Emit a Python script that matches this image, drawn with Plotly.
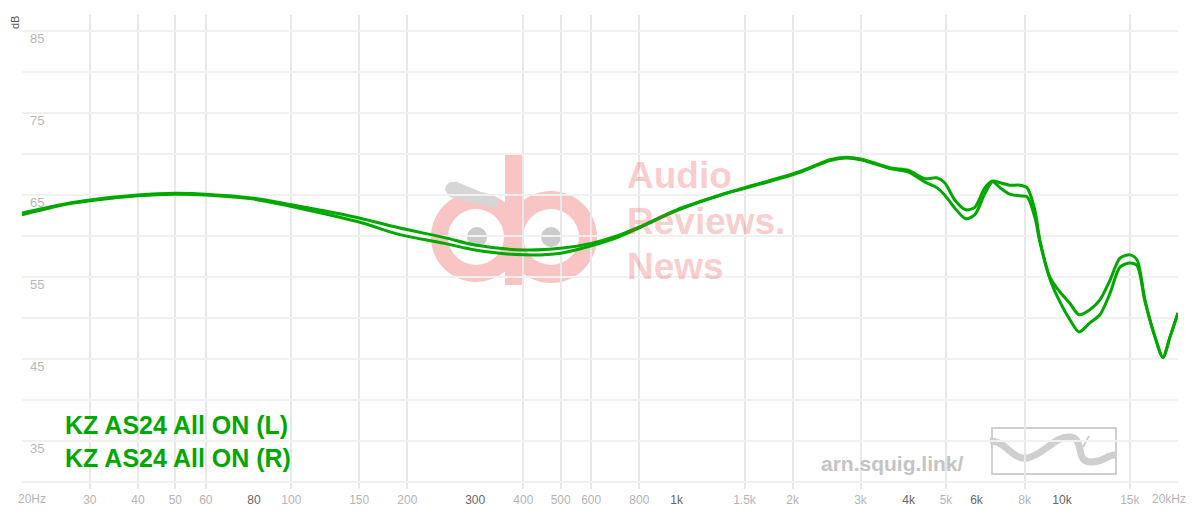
import re
import numpy as np
import plotly.graph_objects as go

# ---------------- data ----------------
FREQ_HZ = [20, 25, 30, 40, 50, 60, 80, 100, 150, 190, 250, 300, 400, 500, 600, 700, 800,
           1000, 1300, 1500, 1850, 2100, 2500, 2750, 3000, 3600, 4000, 4400, 4730, 4960,
           5270, 5630, 5940, 6310, 6610, 6900, 7320, 7770, 8110, 8500, 8760, 9300, 9870,
           10480, 11070, 11810, 12540, 13320, 14140, 15010, 15650, 16420, 17430, 18280,
           19070, 20000]

SPL_L = [62.8, 63.8, 64.4, 65.0, 65.2, 65.1, 64.6, 63.8, 62.2, 61.0, 59.8, 58.9, 58.3, 58.5,
         59.1, 60.0, 61.1, 63.2, 65.0, 65.9, 67.1, 67.9, 69.3, 69.6, 69.4, 68.3, 68.0, 67.0,
         67.1, 66.5, 64.4, 63.2, 63.5, 65.9, 66.7, 66.5, 66.2, 66.2, 65.9, 63.2, 59.5, 55.0,
         53.2, 51.8, 50.4, 51.0, 52.2, 54.6, 57.3, 57.7, 57.1, 52.2, 47.7, 45.2, 47.7, 50.6]

SPL_R = [62.6, 63.7, 64.3, 64.9, 65.1, 65.0, 64.5, 63.6, 61.7, 60.2, 59.1, 58.3, 57.7, 57.9,
         58.8, 59.8, 61.0, 63.1, 65.0, 65.8, 67.0, 67.8, 69.2, 69.5, 69.3, 68.2, 67.8, 66.6,
         65.9, 65.0, 63.4, 62.1, 62.6, 65.2, 66.6, 65.9, 65.1, 64.9, 64.8, 62.3, 59.3, 54.8,
         52.0, 49.8, 48.3, 49.4, 50.4, 53.0, 56.2, 56.7, 56.4, 52.0, 47.7, 45.2, 47.7, 50.6]

SERIES_NAMES = ["KZ AS24 All ON (L)", "KZ AS24 All ON (R)"]

X_TICK_VALUES = [20, 30, 40, 50, 60, 80, 100, 150, 200, 300, 400, 500, 600, 800, 1000,
                 1500, 2000, 3000, 4000, 5000, 6000, 8000, 10000, 15000, 20000]
X_TICK_LABELS = ["20Hz", "30", "40", "50", "60", "80", "100", "150", "200",
                 "300", "400", "500", "600", "800", "1k", "1.5k", "2k", "3k", "4k", "5k",
                 "6k", "8k", "10k", "15k", "20kHz"]
X_MAJOR_VALUES = [80, 300, 1000, 4000, 6000, 10000]
X_EDGE_VALUES = [20, 20000]

Y_LABEL_VALUES = [35, 45, 55, 65, 75, 85]
Y_MINOR_VALUES = [30, 40, 50, 60, 70, 80]

# ---------------- style ----------------
W, H = 1200, 519
OFF = 8  # page body margin
ML, MR, MT, MB = 22 - OFF, W - (1178 - OFF), 15 - OFF, H - (489 - OFF)
PW, PH = W - ML - MR, H - MT - MB
GREEN = "rgb(0,168,0)"
FONT = "Liberation Sans, Arial, sans-serif"
LIGHT_LABEL = "#b4b4b4"
DARK_LABEL = "#666666"


def px(x):
    return (x - OFF - ML) / PW


def py(y):
    return (H - MB - (y - OFF)) / PH


def ppath(s):
    return re.sub(r"(-?\d+\.?\d*),(-?\d+\.?\d*)",
                  lambda m: f"{px(float(m.group(1))):.5f},{py(float(m.group(2))):.5f}", s)


fig = go.Figure()
for name, vals in zip(SERIES_NAMES, [SPL_L, SPL_R]):
    fig.add_trace(go.Scatter(x=FREQ_HZ, y=vals, mode="lines", name=name,
                             line=dict(color=GREEN, width=3, shape="spline", smoothing=0.8),
                             hoverinfo="skip", showlegend=False))

ticktext = []
for v, t in zip(X_TICK_VALUES, X_TICK_LABELS):
    if v in X_EDGE_VALUES:
        ticktext.append("")
        continue
    c = DARK_LABEL if v in X_MAJOR_VALUES else LIGHT_LABEL
    ticktext.append(f"<span style='color:{c}'>{t}</span>")

shapes = []
# darker major vertical grid lines
for v in X_MAJOR_VALUES:
    shapes.append(dict(type="line", xref="x", yref="paper", x0=np.log10(v), x1=np.log10(v),
                       y0=0, y1=1, line=dict(color="#b8b8b8", width=1.6), layer="below"))

# audio reviews "ab" watermark
PINK = "#f8c4c4"
def circ(cx, cy, r, col):
    return dict(type="circle", xref="paper", yref="paper", x0=px(cx - r), x1=px(cx + r),
                y0=py(cy + r), y1=py(cy - r), fillcolor=col, line=dict(width=0), layer="below")

shapes += [
    circ(476, 237, 45, PINK),
    circ(551, 237, 46, PINK),
    dict(type="rect", xref="paper", yref="paper", x0=px(505), x1=px(524), y0=py(285), y1=py(153),
         fillcolor=PINK, line=dict(width=0), layer="below"),
    circ(476, 237, 28, "white"),
    circ(551, 237, 28, "white"),
    circ(477, 237, 10, "#cbcbcb"),
    circ(551, 237, 10, "#cbcbcb"),
    dict(type="path", xref="paper", yref="paper", layer="below",
         path=ppath("M 445,190 Q 446,180 457,182 L 498,199 L 497,208 Q 470,203 450,197 Z"),
         fillcolor="#d6d6d6", line=dict(width=0)),
]

# squig.link logo
GREY = "#cfcfcf"
shapes += [
    dict(type="rect", xref="paper", yref="paper", x0=px(992), x1=px(1116), y0=py(474), y1=py(428),
         line=dict(color=GREY, width=2), layer="below"),
    dict(type="path", xref="paper", yref="paper", layer="below",
         path=ppath("M 990,441 C 1005,440 1012,460 1027,458 S 1055,436 1070,437 "
                    "S 1075,462 1090,462 S 1106,455 1115,455"),
         line=dict(color=GREY, width=7)),
    dict(type="path", xref="paper", yref="paper", layer="below",
         path=ppath("M 1083,447 L 1089,436"), line=dict(color=GREY, width=2)),
]

annotations = [
    dict(text="dB", x=px(15), y=py(23), xref="paper", yref="paper", textangle=-90,
         showarrow=False, font=dict(family=FONT, size=11, color="#555555"),
         xanchor="center", yanchor="middle"),
    dict(text="arn.squig.link/", x=px(819), y=py(463), xref="paper", yref="paper",
         showarrow=False, xanchor="left", yanchor="middle",
         font=dict(family=FONT, size=21, color="#c4c4c4", weight="bold")),
    # edge tick labels (shifted inward like the reference)
    dict(text=X_TICK_LABELS[0], x=px(16), y=py(499), xref="paper", yref="paper",
         showarrow=False, xanchor="left", yanchor="middle",
         font=dict(family=FONT, size=12, color=LIGHT_LABEL)),
    dict(text=X_TICK_LABELS[-1], x=px(1188), y=py(499), xref="paper", yref="paper",
         showarrow=False, xanchor="right", yanchor="middle",
         font=dict(family=FONT, size=12, color=LIGHT_LABEL)),
]
for i, word in enumerate(["Audio", "Reviews.", "News"]):
    annotations.append(dict(text=word, x=px(625), y=py(176 + i * 45), xref="paper", yref="paper",
                            showarrow=False, xanchor="left", yanchor="middle",
                            font=dict(family=FONT, size=37, color="rgba(236,60,60,0.27)",
                                      weight="bold")))
for i, name in enumerate(SERIES_NAMES):
    annotations.append(dict(text=name, x=px(63), y=py(425 + i * 33), xref="paper", yref="paper",
                            showarrow=False, xanchor="left", yanchor="middle",
                            font=dict(family=FONT, size=25, color=GREEN, weight="bold")))

fig.update_layout(
    width=W, height=H,
    margin=dict(l=ML, r=MR, t=MT, b=MB, pad=0, autoexpand=False),
    paper_bgcolor="white", plot_bgcolor="white",
    font=dict(family=FONT),
    xaxis=dict(type="log", range=[np.log10(20), np.log10(20000)], tickmode="array",
               tickvals=X_TICK_VALUES, ticktext=ticktext, showgrid=False, zeroline=False,
               showline=False, ticks="", automargin=False, ticklabelstandoff=2,
               tickfont=dict(family=FONT, size=12),
               minor=dict(tickvals=[v for v in X_TICK_VALUES if v not in X_MAJOR_VALUES],
                          showgrid=True, gridcolor="#e8e8e8", gridwidth=1.6, ticks="")),
    yaxis=dict(range=[29.15, 86.95], tickmode="array", tickvals=Y_LABEL_VALUES,
               ticktext=[str(v) for v in Y_LABEL_VALUES], showgrid=True, gridcolor="#f1f1f1",
               gridwidth=2, zeroline=False, showline=False, ticks="", automargin=False,
               ticklabelposition="inside", ticklabelstandoff=5, ticklabelshift=7,
               tickfont=dict(family=FONT, size=13, color="#b8b8b8"),
               minor=dict(tickvals=Y_MINOR_VALUES, showgrid=True, gridcolor="#f1f1f1",
                          gridwidth=2, ticks="")),
    shapes=shapes,
    annotations=annotations,
)

fig.write_html("out.html")
